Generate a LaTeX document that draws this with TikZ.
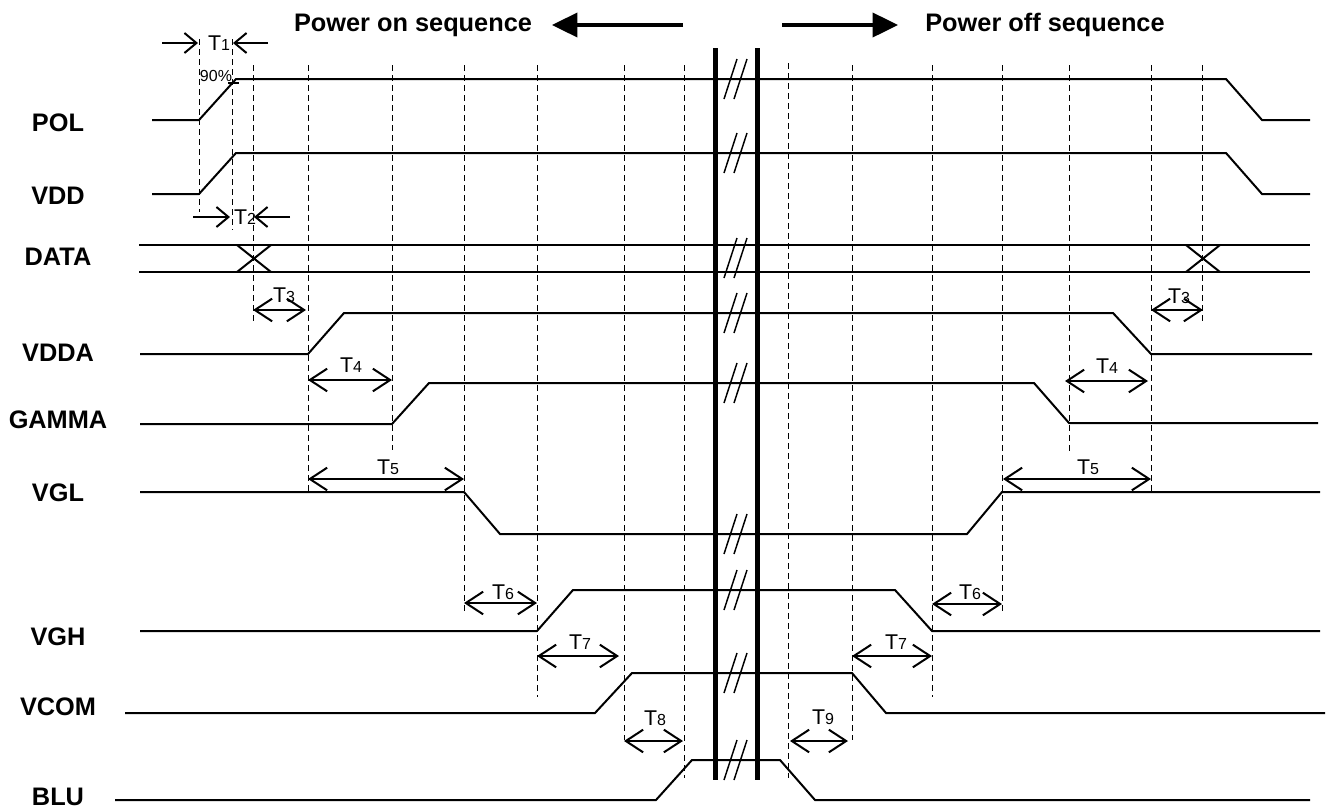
\documentclass[tikz,border=0pt]{standalone}
\usepackage{fontspec}
\setmainfont{Liberation Sans}
\usetikzlibrary{arrows.meta}
\newcommand{\tlab}[1]{T{\fontsize{12}{14}\selectfont #1}}
\tikzset{
    signal/.style={line width=1.5pt, line join=miter},
    guide/.style={line width=0.7pt, dash pattern=on 4.5pt off 3pt},
    breakbar/.style={line width=3.75pt},
    breakmark/.style={line width=1.1pt},
    tdim/.style={line width=1.5pt, {Straight Barb[length=13pt,width=17pt]}-{Straight Barb[length=13pt,width=17pt]}},
    tpoint/.style={line width=1.5pt, -{Straight Barb[length=9pt,width=15pt]}},
    seqarrow/.style={line width=2.8pt, -{Triangle[length=19pt,width=18pt]}},
    siglabel/.style={font=\fontsize{19}{22}\selectfont\bfseries, inner sep=0pt},
    tlabel/.style={font=\fontsize{16}{18}\selectfont, inner sep=0pt}
}
\begin{document}
\begin{tikzpicture}[x=0.75pt, y=-0.75pt]
    \useasboundingbox (0,0) rectangle (1339,811);
    % header
    \node[siglabel] (pon) at (413,25) {Power on sequence};
    \node[siglabel] (poff) at (1045,25) {Power off sequence};
    \coordinate (ponstart) at (683,25);
    \coordinate (ponend) at (552,25);
    \coordinate (poffstart) at (782,25);
    \coordinate (poffend) at (898,25);
    \draw[seqarrow] (ponstart) -- (ponend);
    \draw[seqarrow] (poffstart) -- (poffend);
    % signal names
    \foreach \name/\y in {POL/123, VDD/196, DATA/257, VDDA/353, GAMMA/420, VGL/493, VGH/637, VCOM/707, BLU/797}
        \node[siglabel] (lab\name) at (58,\y) {\name};
    % guide lines
    \foreach \x/\top/\bot in {199/39/212, 232/39/230, 253/65/323, 308/65/492, 392/65/450,
                              464/65/615, 537/65/697, 624/65/740, 684/65/778, 788/63/778,
                              852/65/740, 932/65/697, 1002/65/615, 1069/65/451, 1151/65/492, 1202/65/322}
        \draw[guide] (\x,\top) -- (\x,\bot);
    % waveforms
    \draw[signal] (152,120) -- (199,120) -- (236,79) -- (1226,79) -- (1262,120) -- (1310,120);
    \draw[signal] (152,194) -- (199,194) -- (236,153) -- (1226,153) -- (1262,194) -- (1310,194);
    \draw[signal] (139,245) -- (1310,245);
    \draw[signal] (139,272) -- (1310,272);
    \draw[signal] (237,245) -- (271,272) (237,272) -- (271,245);
    \draw[signal] (1186,245) -- (1220,272) (1186,272) -- (1220,245);
    \draw[signal] (140,354) -- (308,354) -- (344,313) -- (1113,313) -- (1151,354) -- (1312,354);
    \draw[signal] (140,424) -- (392,424) -- (429,383) -- (1034,383) -- (1069,423) -- (1318,423);
    \draw[signal] (140,492) -- (464,492) -- (500,534) -- (967,534) -- (1002,492) -- (1320,492);
    \draw[signal] (140,631) -- (537,631) -- (573,590) -- (895,590) -- (932,631) -- (1320,631);
    \draw[signal] (125,713) -- (595,713) -- (632,673) -- (852,673) -- (886,713) -- (1325,713);
    \draw[signal] (115,800) -- (656,800) -- (692,760) -- (780,760) -- (815,800) -- (1310,800);
    % 90% point
    \node[font=\fontsize{12}{13}\selectfont, inner sep=0pt] (ninety) at (216,76) {90\%};
    \draw[line width=1.1pt] (228,83) -- (239,83);
    % break in the time axis
    \draw[breakbar] (715,48) -- (715,780);
    \draw[breakbar] (757,48) -- (757,780);
    \foreach \y in {79, 153, 258, 313, 383, 534, 590, 673, 760} {
        \draw[breakmark] (724,\y+20) -- (737,\y-20);
        \draw[breakmark] (734,\y+20) -- (747,\y-20);
    }
    % timing intervals
    \draw[tpoint] (162,43) -- (198,43);
    \draw[tpoint] (268,43) -- (233,43);
    \node[tlabel] (t1) at (219,43) {\tlab{1}};
    \draw[tpoint] (193,217) -- (230,217);
    \draw[tpoint] (290,217) -- (254,217);
    \node[tlabel] (t2) at (245,217) {\tlab{2}};
    \foreach \a/\b/\y/\tx/\ty/\k/\nm in {253/306/310/284/295/3/t3on, 308/392/380/351/365/4/t4on,
                                         308/464/479/388/467/5/t5on, 464/537/603/503/592/6/t6on,
                                         537/619/656/580/642/7/t7on, 624/683/741/655/718/8/t8,
                                         790/848/741/823/717/9/t9, 852/932/656/896/642/7/t7off,
                                         932/1002/604/970/592/6/t6off, 1003/1151/479/1088/467/5/t5off,
                                         1065/1148/381/1107/366/4/t4off, 1151/1203/310/1179/296/3/t3off} {
        \draw[tdim] (\a,\y) -- (\b,\y);
        \node[tlabel] (\nm) at (\tx,\ty) {\tlab{\k}};
    }
\end{tikzpicture}
\end{document}
